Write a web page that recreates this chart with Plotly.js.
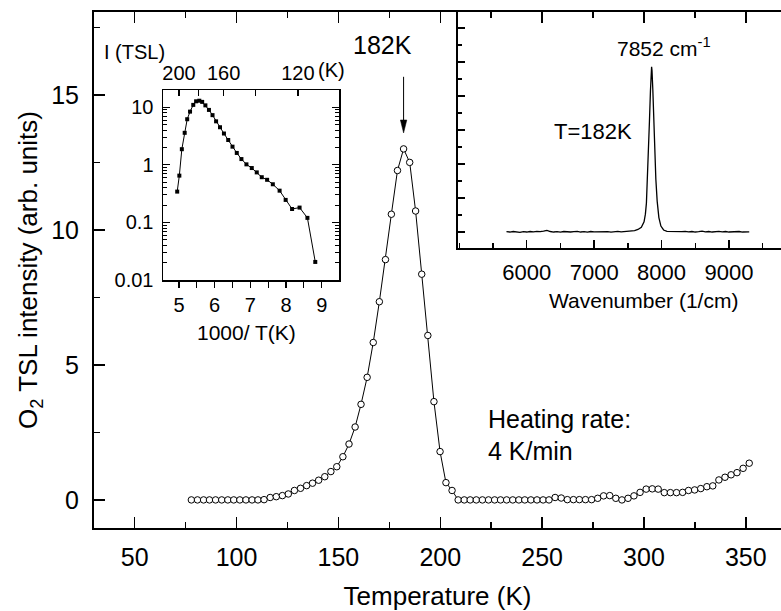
<!DOCTYPE html>
<html>
<head>
<meta charset="utf-8">
<script src="https://cdn.plot.ly/plotly-3.0.1.min.js"></script>
<style>html,body{margin:0;padding:0;background:#fff;}</style>
</head>
<body>
<div id="chart" style="width:781px;height:611px;"></div>
<script>
// ---- Main curve: O2 TSL intensity vs temperature ----
const tempK = [77.8,80.8,83.8,86.7,89.7,92.7,95.7,98.6,101.6,104.6,107.6,110.5,113.5,116.5,119.5,122.5,125.4,128.4,131.4,134.4,137.3,140.3,143.3,146.3,149.2,152.2,155.2,158.2,161.1,164.1,167.1,170.1,173.1,176.0,179.0,182.0,185.0,187.9,190.9,193.9,196.9,199.9,202.8,205.8,208.8,211.8,214.7,217.7,220.7,223.7,226.7,229.6,232.6,235.6,238.6,241.5,244.5,247.5,250.5,253.4,256.4,259.4,262.4,265.4,268.3,271.3,274.3,277.3,280.2,283.2,286.2,289.2,292.2,295.1,298.1,301.1,304.1,307.0,310.0,313.0,316.0,319.0,321.9,324.9,327.9,330.9,333.8,336.8,339.8,342.8,345.7,348.7,351.7];
const tslIntensity = [0,0,0,0,0,0,0,0,0,0,0,0,0.01,0.09,0.12,0.16,0.22,0.35,0.43,0.53,0.62,0.73,0.86,1.05,1.23,1.60,2.07,2.70,3.54,4.54,5.83,7.34,8.90,10.58,12.2,13.0,12.5,10.7,8.36,6.09,3.64,1.79,0.64,0.35,0.0,0,0,0,0,0,0,0,0,0,0,0,0,0,0,0,0.09,0.07,0.01,0.01,0.01,0.01,0.01,0.06,0.15,0.16,0.06,0.0,0.06,0.15,0.28,0.40,0.41,0.40,0.27,0.27,0.27,0.28,0.35,0.37,0.42,0.49,0.52,0.74,0.84,0.93,1.01,1.17,1.36];
const mainXTicks = [50,100,150,200,250,300,350];
const mainYTicks = [0,5,10,15];
const peakTemp = 182;

// ---- Inset 1: I(TSL) vs 1000/T (log) ----
const invT = [4.95,5.01,5.08,5.16,5.23,5.31,5.40,5.48,5.57,5.65,5.74,5.84,5.94,6.04,6.15,6.26,6.38,6.50,6.62,6.75,6.89,7.04,7.18,7.32,7.47,7.63,7.82,7.99,8.17,8.38,8.60,8.82];
const tslLog = [0.343,0.65,1.87,3.6,6.2,8.4,11.0,12.7,13.0,12.4,10.8,9.0,7.3,5.7,4.5,3.5,2.7,2.07,1.61,1.26,1.02,0.88,0.74,0.61,0.55,0.46,0.356,0.246,0.171,0.181,0.120,0.0206];
const invTTicks = [5,6,7,8,9];
const topTempLabeled = [200,160,120];
const topTempUnlabeled = [180,140];
const logTickVals = [0.01,0.1,1,10];
const logTickText = ['0.01','0.1','1','10'];

// ---- Inset 2: spectrum at T=182K ----
const wavenumber = [5700,5750,5800,5850,5900,5950,6000,6050,6100,6150,6200,6250,6300,6350,6400,6450,6500,6550,6600,6650,6700,6750,6800,6850,6900,6950,7000,7050,7100,7150,7200,7250,7300,7350,7400,7450,7500,7550,7600,7650,7700,7740,7760,7775,7790,7805,7820,7835,7846,7852,7858,7870,7885,7900,7915,7935,7960,7990,8030,8080,8150,8200,8250,8300,8350,8400,8450,8500,8550,8600,8650,8700,8750,8800,8850,8900,8950,9000,9050,9100,9150,9200,9250,9300];
const specIntensity = [0.02,0.0,0.03,0.01,-0.02,0.02,0.0,0.03,0.01,0.04,0.02,0.05,0.1,0.03,0.0,0.02,-0.01,0.03,0.01,0.0,0.02,0.04,0.0,0.02,-0.01,0.03,0.01,0.02,0.0,0.03,0.02,-0.01,0.02,0.04,0.01,0.03,0.05,0.04,0.08,0.15,0.28,0.6,1.05,1.7,3.0,4.6,6.5,8.3,9.4,9.72,9.5,8.4,6.6,4.6,3.1,1.8,0.85,0.35,0.12,0.04,0.02,0.03,0.0,0.02,0.04,0.01,0.03,0.0,0.02,0.05,0.01,0.03,0.0,0.02,0.04,0.01,0.03,0.0,0.02,0.01,0.03,0.0,0.02,0.01];
const waveTicks = [6000,7000,8000,9000];

const FONT = "Arial, 'Liberation Sans', Helvetica, sans-serif";
const BLACK = '#000';

const traces = [
  {x: tempK, y: tslIntensity, xaxis:'x', yaxis:'y', type:'scatter', mode:'lines+markers',
   line:{color:BLACK, width:1},
   marker:{symbol:'circle', size:6.5, color:'#fff', line:{color:BLACK, width:1}}},
  {x: invT, y: tslLog, xaxis:'x2', yaxis:'y2', type:'scatter', mode:'lines+markers',
   line:{color:BLACK, width:1},
   marker:{symbol:'square', size:4, color:BLACK}},
  // invisible trace to activate the top axis of inset 1
  {x: topTempLabeled.map(t => 1000/t), y: topTempLabeled.map(() => 1), xaxis:'x3', yaxis:'y2',
   type:'scatter', mode:'markers', marker:{opacity:0}, hoverinfo:'skip', showlegend:false},
  {x: wavenumber, y: specIntensity, xaxis:'x4', yaxis:'y4', type:'scatter', mode:'lines',
   line:{color:BLACK, width:1.3}}
];

// helper conversions for pixel -> paper
const L = 94, T = 12, W = 687, H = 516;
const px = v => (v - L) / W;
const py = v => (T + H - v) / H;

const logMinor = [];
[0.01,0.1,1,10].forEach(d => { for (let k = 2; k <= 9; k++) logMinor.push(+(d*k).toPrecision(3)); });

// arrow geometry (in pixels, relative to the peak marker) converted to main-axis units
const kPerPx = 337.3 / W, uPerPx = 19.11 / H;
const arrowTipY = 13.59, arrowTailY = 15.67;
const headLen = 13 * uPerPx, headHalf = 3.2 * kPerPx;

const layout = {
  width: 781, height: 611,
  margin: {l: L, r: 0, t: T, b: 611 - T - H},
  paper_bgcolor: '#fff', plot_bgcolor: 'rgba(0,0,0,0)',
  showlegend: false,
  font: {family: FONT, color: BLACK},
  xaxis: {
    domain: [0, 1], anchor: 'y', range: [30, 367.3],
    tickmode: 'array', tickvals: mainXTicks,
    ticks: 'inside', ticklen: 11, tickwidth: 1.5, tickcolor: BLACK,
    minor: {dtick: 25, tick0: 0, ticks: 'inside', ticklen: 6, tickwidth: 1.5, tickcolor: BLACK, showgrid: false},
    showline: true, linewidth: 2, linecolor: BLACK, mirror: 'ticks',
    showgrid: false, zeroline: false,
    tickfont: {size: 25, family: FONT}, ticklabelstandoff: 6,
    title: {text: 'Temperature (K)', font: {size: 26, family: FONT}, standoff: 20}
  },
  yaxis: {
    domain: [0, 1], anchor: 'x', range: [-1.04, 18.07],
    tickmode: 'array', tickvals: mainYTicks,
    ticks: 'inside', ticklen: 11, tickwidth: 1.5, tickcolor: BLACK,
    minor: {dtick: 2.5, tick0: 0, ticks: 'inside', ticklen: 6, tickwidth: 1.5, tickcolor: BLACK, showgrid: false},
    showline: true, linewidth: 2, linecolor: BLACK, mirror: false,
    showgrid: false, zeroline: false,
    tickfont: {size: 25, family: FONT}, ticklabelstandoff: 8,
    title: {text: 'O<sub>2</sub> TSL intensity (arb. units)', font: {size: 26, family: FONT}, standoff: 6}
  },
  xaxis2: {
    domain: [px(163), px(339)], anchor: 'y2', range: [4.552, 9.485],
    tickmode: 'array', tickvals: invTTicks,
    ticks: 'outside', ticklen: 6, tickwidth: 1.2, tickcolor: BLACK,
    minor: {dtick: 0.5, tick0: 0, ticks: 'outside', ticklen: 6, tickwidth: 1.2, tickcolor: BLACK, showgrid: false},
    showline: true, linewidth: 1.5, linecolor: BLACK, mirror: true,
    showgrid: false, zeroline: false,
    tickfont: {size: 20, family: FONT}, ticklabelstandoff: 0
  },
  xaxis3: {
    overlaying: 'x2', anchor: 'y2', side: 'top', range: [4.552, 9.485],
    tickmode: 'array', tickvals: topTempLabeled.map(t => 1000/t), ticktext: topTempLabeled.map(String),
    ticks: 'inside', ticklen: 6, tickwidth: 1.2, tickcolor: BLACK,
    minor: {tickmode: 'array', tickvals: topTempUnlabeled.map(t => 1000/t), ticks: 'inside', ticklen: 6, tickwidth: 1.2, tickcolor: BLACK, showgrid: false},
    showline: false, showgrid: false, zeroline: false,
    tickfont: {size: 20, family: FONT}, ticklabelstandoff: 5
  },
  yaxis2: {
    domain: [py(280), py(90)], anchor: 'x2', type: 'log', range: [-2, 1.30],
    tickmode: 'array', tickvals: logTickVals, ticktext: logTickText,
    ticks: 'inside', ticklen: 7, tickwidth: 1.2, tickcolor: BLACK,
    minor: {tickmode: 'array', tickvals: logMinor, ticks: 'inside', ticklen: 4, tickwidth: 1, tickcolor: BLACK, showgrid: false},
    showline: true, linewidth: 1.5, linecolor: BLACK, mirror: 'ticks',
    showgrid: false, zeroline: false,
    tickfont: {size: 20, family: FONT}, ticklabelstandoff: 4
  },
  xaxis4: {
    domain: [px(458), 1], anchor: 'y4', range: [4981, 9771],
    tickmode: 'array', tickvals: waveTicks,
    ticks: 'inside', ticklen: 8, tickwidth: 1.5, tickcolor: BLACK,
    minor: {dtick: 500, tick0: 0, ticks: 'inside', ticklen: 5, tickwidth: 1.5, tickcolor: BLACK, showgrid: false},
    showline: true, linewidth: 2, linecolor: BLACK, mirror: false,
    showgrid: false, zeroline: false,
    tickfont: {size: 22, family: FONT}, ticklabelstandoff: 4
  },
  yaxis4: {
    domain: [py(248), 1], anchor: 'x4', range: [-0.94, 12.94],
    tick0: 0, dtick: 2, ticks: 'inside', ticklen: 7, tickwidth: 1.5, tickcolor: BLACK,
    minor: {dtick: 1, tick0: 0, ticks: 'inside', ticklen: 4, tickwidth: 1.5, tickcolor: BLACK, showgrid: false},
    showline: true, linewidth: 2, linecolor: BLACK, mirror: false,
    showticklabels: false, showgrid: false, zeroline: false
  },
  shapes: [
    {type:'line', xref:'x', yref:'y', x0: peakTemp, x1: peakTemp, y0: arrowTailY, y1: arrowTipY + headLen*0.8,
     line:{color:BLACK, width:1}},
    {type:'path', xref:'x', yref:'y',
     path: `M ${peakTemp} ${arrowTipY} L ${peakTemp - headHalf} ${arrowTipY + headLen} L ${peakTemp + headHalf} ${arrowTipY + headLen} Z`,
     fillcolor: BLACK, line:{color:BLACK, width:0.5}}
  ],
  annotations: [
    {xref:'paper', yref:'paper', x: px(382.5), y: py(45), text:'182K', showarrow:false,
     xanchor:'center', yanchor:'middle', font:{size:25, family:FONT}},
    {xref:'paper', yref:'paper', x: px(486), y: py(419), text:'Heating rate:', showarrow:false,
     xanchor:'left', yanchor:'middle', font:{size:25, family:FONT}},
    {xref:'paper', yref:'paper', x: px(486), y: py(451), text:'4 K/min', showarrow:false,
     xanchor:'left', yanchor:'middle', font:{size:25, family:FONT}},
    {xref:'paper', yref:'paper', x: px(102), y: py(52), text:'I (TSL)', showarrow:false,
     xanchor:'left', yanchor:'middle', font:{size:20, family:FONT}},
    {xref:'paper', yref:'paper', x: px(331), y: py(70), text:'(K)', showarrow:false,
     xanchor:'center', yanchor:'middle', font:{size:20, family:FONT}},
    {xref:'paper', yref:'paper', x: px(246.7), y: py(332), text:'1000/ T(K)', showarrow:false,
     xanchor:'center', yanchor:'middle', font:{size:21, family:FONT}},
    {xref:'paper', yref:'paper', x: px(664), y: py(47), text:'7852 cm<sup>-1</sup>', showarrow:false,
     xanchor:'center', yanchor:'middle', font:{size:21, family:FONT}},
    {xref:'paper', yref:'paper', x: px(593), y: py(131), text:'T=182K', showarrow:false,
     xanchor:'center', yanchor:'middle', font:{size:22, family:FONT}},
    {xref:'paper', yref:'paper', x: px(643), y: py(300), text:'Wavenumber (1/cm)', showarrow:false,
     xanchor:'center', yanchor:'middle', font:{size:21, family:FONT}}
  ]
};

Plotly.newPlot('chart', traces, layout, {staticPlot: true, displayModeBar: false});
</script>
</body>
</html>
